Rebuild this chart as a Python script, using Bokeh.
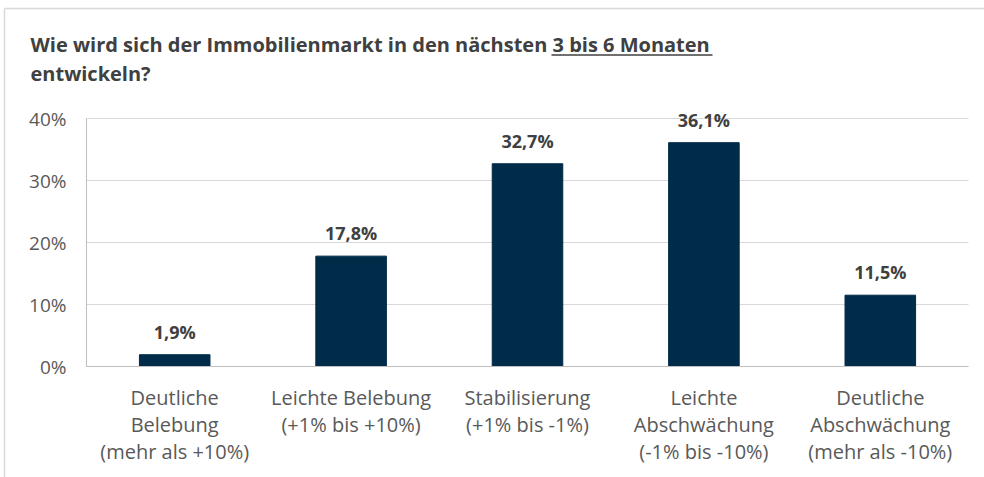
from bokeh.plotting import figure
from bokeh.models import (Range1d, LabelSet, Label, ColumnDataSource,
                          NumeralTickFormatter, FixedTicker)
from bokeh.core.properties import value
from bokeh.embed import file_html
from bokeh.resources import INLINE

# ---- data ----
categories = [
    "Deutliche\nBelebung\n(mehr als +10%)",
    "Leichte Belebung\n(+1% bis +10%)",
    "Stabilisierung\n(+1% bis -1%)",
    "Leichte\nAbschwächung\n(-1% bis -10%)",
    "Deutliche\nAbschwächung\n(mehr als -10%)",
]
shares = [0.019, 0.178, 0.327, 0.361, 0.115]
y_ticks = [0.0, 0.1, 0.2, 0.3, 0.4]
title_main = "Wie wird sich der Immobilienmarkt in den nächsten "
title_underlined = "3 bis 6 Monaten"
title_line2 = "entwickeln?"

FONT = "Open Sans"
DARK = "#404040"
GREY = "#595959"
BAR = "#002b49"
LIGHT = "#d9d9d9"

# ---- layout geometry (pixels) ----
W, H = 984, 477
FL, FR, FT, FB = 86, 968, 118, 366      # chart area: left, right, top(40%), bottom(0%)
n = len(categories)
Y0, Y1 = y_ticks[0], y_ticks[-1]
xpx = (FR - FL) / n
ypx = (FB - FT) / (Y1 - Y0)
x_start = -0.5 - FL / xpx
x_end = n - 0.5 + (W - FR) / xpx
y_start = Y0 - (H - FB) / ypx
y_end = Y1 + FT / ypx


def dx(px):
    return x_start + px / xpx


def dy(py):
    return y_end - py / ypx


positions = list(range(n))
labels = [f"{v * 100:.1f}%".replace(".", ",") for v in shares]
src = ColumnDataSource(dict(x=positions, y=shares, t=labels))
grid_src = ColumnDataSource(dict(y=y_ticks))

p = figure(x_range=Range1d(x_start, x_end), y_range=Range1d(y_start, y_end),
           width=W, height=H, title=None, output_backend="svg",
           toolbar_location=None, min_border=0, min_border_left=0,
           min_border_right=0, min_border_top=0, min_border_bottom=0)
p.outline_line_color = None
p.background_fill_color = "white"
p.border_fill_color = "white"
p.xgrid.grid_line_color = None
p.ygrid.grid_line_color = None

# gridlines limited to the chart area
p.segment(x0=-0.5, x1=n - 0.5, y0="y", y1="y", source=grid_src,
          line_color=LIGHT, line_width=1)

p.vbar(x="x", top="y", width=0.4, source=src, color=BAR)

yax = p.yaxis[0]
yax.fixed_location = -0.5
yax.bounds = (Y0, Y1)
yax.ticker = FixedTicker(ticks=y_ticks)
yax.formatter = NumeralTickFormatter(format="0%")
yax.axis_line_color = "#bfbfbf"
yax.major_tick_line_color = None
yax.minor_tick_line_color = None
yax.major_label_standoff = 14
yax.major_label_text_font = FONT
yax.major_label_text_font_size = "19px"
yax.major_label_text_color = GREY

xax = p.xaxis[0]
xax.fixed_location = 0
xax.bounds = (-0.5, n - 0.5)
xax.ticker = FixedTicker(ticks=positions)
xax.major_label_overrides = {i: c for i, c in zip(positions, categories)}
xax.axis_line_color = "#bfbfbf"
xax.major_tick_line_color = None
xax.minor_tick_line_color = None
xax.major_label_standoff = 11
xax.major_label_text_font = FONT
xax.major_label_text_font_size = "20px"
xax.major_label_text_color = GREY
xax.major_label_text_line_height = 1.0

p.add_layout(LabelSet(x="x", y="y", text="t", source=src, y_offset=16,
                      text_align="center", text_baseline="alphabetic",
                      text_font=value(FONT), text_font_size="18px",
                      text_font_style="bold", text_color=DARK))

# title
TKW = dict(text_align="left", text_baseline="alphabetic", text_font=FONT,
           text_font_size="20px", text_font_style="bold", text_color=DARK)
p.add_layout(Label(x=dx(30), y=dy(44), text=title_main, **TKW))
p.add_layout(Label(x=dx(552), y=dy(44), text=title_underlined, **TKW))
p.add_layout(Label(x=dx(30), y=dy(73), text=title_line2, **TKW))
p.segment(x0=dx(551), x1=dx(712), y0=dy(54.5), y1=dy(54.5), line_color=DARK, line_width=1.5)

# chart border
p.segment(x0=[dx(4), dx(4)], y0=[dy(8), dy(8)], x1=[dx(W), dx(4)], y1=[dy(8), dy(H)],
          line_color=LIGHT, line_width=1.5)

open("out.html", "w").write(file_html(p, INLINE))
